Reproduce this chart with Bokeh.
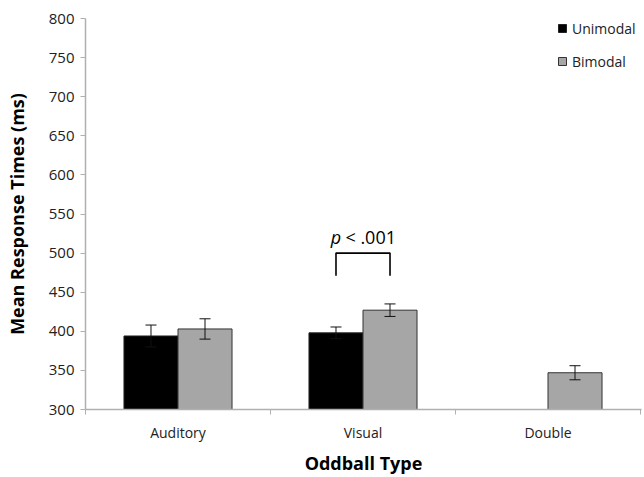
from bokeh.plotting import figure
from bokeh.models import (ColumnDataSource, Range1d, FixedTicker, Whisker, TeeHead,
                          Legend, LegendItem, Label)
from bokeh.embed import file_html
from bokeh.resources import INLINE

nan = float("nan")

# ---- data ----
categories = ["Auditory", "Visual", "Double"]
unimodal = [394, 398, nan]
bimodal = [403, 427, 347]
unimodal_err = [14, 7.5, nan]
bimodal_err = [13, 8, 9]
y_ticks = [300, 350, 400, 450, 500, 550, 600, 650, 700, 750, 800]
sig_label_p = "p"
sig_label_rest = "< .001"
sig_bracket_top = 500
sig_bracket_bottom = 471
sig_category = "Visual"

FONT = "Open Sans"
BAR_W = 0.292
OFF = BAR_W / 2

centers = [i + 0.5 for i in range(len(categories))]
x_uni = [c - OFF for c in centers]
x_bi = [c + OFF for c in centers]

src_u = ColumnDataSource(dict(
    x=x_uni, top=unimodal,
    upper=[v + e for v, e in zip(unimodal, unimodal_err)],
    lower=[v - e for v, e in zip(unimodal, unimodal_err)]))
src_b = ColumnDataSource(dict(
    x=x_bi, top=bimodal,
    upper=[v + e for v, e in zip(bimodal, bimodal_err)],
    lower=[v - e for v, e in zip(bimodal, bimodal_err)]))

W, H = 644, 477
LEFT, TOP, BOTTOM, RIGHT = 85, 18, 67, 3
frame_w = W - LEFT - RIGHT
px_per_cat = 185.0

p = figure(width=W, height=H, output_backend="svg", toolbar_location=None,
           x_range=Range1d(0, frame_w / px_per_cat), y_range=Range1d(300, 800),
           min_border_left=LEFT, min_border_right=RIGHT, min_border_top=TOP,
           min_border_bottom=BOTTOM)
p.outline_line_color = None
p.xgrid.visible = False
p.ygrid.visible = False
p.background_fill_color = "white"

r_u = p.vbar(x="x", top="top", bottom=300, width=BAR_W, source=src_u,
             fill_color="black", line_color="#222222", line_width=1)
r_b = p.vbar(x="x", top="top", bottom=300, width=BAR_W, source=src_b,
             fill_color="#a6a6a6", line_color="#333333", line_width=1)

for src in (src_u, src_b):
    w = Whisker(base="x", upper="upper", lower="lower", source=src, level="overlay",
                line_color="#111111", line_width=1,
                upper_head=TeeHead(size=11, line_color="#111111", line_width=1),
                lower_head=TeeHead(size=11, line_color="#111111", line_width=1))
    p.add_layout(w)

# significance bracket
ci = categories.index(sig_category)
bx0, bx1 = x_uni[ci], x_bi[ci]
p.line(x=[bx0, bx0, bx1, bx1],
       y=[sig_bracket_bottom, sig_bracket_top, sig_bracket_top, sig_bracket_bottom],
       line_color="black", line_width=1.6)
mid = centers[ci]
p.add_layout(Label(x=mid - 0.146, y=sig_bracket_top, y_offset=4,
                   text=sig_label_p, text_font=FONT, text_font_style="italic",
                   text_font_size="18px", text_align="center",
                   text_baseline="bottom", text_color="black"))
p.add_layout(Label(x=mid - 0.095, y=sig_bracket_top, y_offset=4,
                   text=sig_label_rest, text_font=FONT,
                   text_font_size="18px", text_align="left",
                   text_baseline="bottom", text_color="black"))

# axes
ax = p.xaxis[0]
ax.ticker = FixedTicker(ticks=centers, minor_ticks=list(range(len(categories) + 1)))
ax.major_label_overrides = {c: lab for c, lab in zip(centers, categories)}
ax.major_tick_out = 0
ax.major_tick_in = 0
ax.minor_tick_out = 5
ax.minor_tick_in = 0
ax.minor_tick_line_color = "#b0b0b0"
ax.axis_line_color = "#b0b0b0"
ax.axis_line_width = 1.5
ax.major_label_text_font = FONT
ax.major_label_text_font_size = "14px"
ax.major_label_text_color = "#222222"
ax.major_label_standoff = 8
ax.axis_label = "Oddball Type"
ax.axis_label_text_font = FONT
ax.axis_label_text_font_size = "18px"
ax.axis_label_text_font_style = "bold"
ax.axis_label_text_color = "black"
ax.axis_label_standoff = 6

ay = p.yaxis[0]
ay.ticker = FixedTicker(ticks=y_ticks, minor_ticks=[])
ay.major_tick_out = 5
ay.major_tick_in = 0
ay.major_tick_line_color = "#b0b0b0"
ay.axis_line_color = "#b0b0b0"
ay.axis_line_width = 1.5
ay.major_label_text_font = FONT
ay.major_label_text_font_size = "15px"
ay.major_label_text_color = "#222222"
ay.major_label_standoff = 6
ay.axis_label = "Mean Response Times (ms)"
ay.axis_label_text_font = FONT
ay.axis_label_text_font_size = "18px"
ay.axis_label_text_font_style = "bold"
ay.axis_label_text_color = "black"
ay.axis_label_standoff = 17

legend = Legend(items=[LegendItem(label="Unimodal", renderers=[r_u]),
                       LegendItem(label="Bimodal", renderers=[r_b])],
                location=(472, 338), orientation="vertical",
                glyph_width=10, glyph_height=10, label_height=20,
                spacing=13, padding=0, margin=0,
                border_line_color=None, background_fill_alpha=0,
                label_text_font=FONT, label_text_font_size="14px",
                label_text_color="#222222", label_standoff=5)
p.add_layout(legend)

open("out.html", "w").write(file_html(p, INLINE))
